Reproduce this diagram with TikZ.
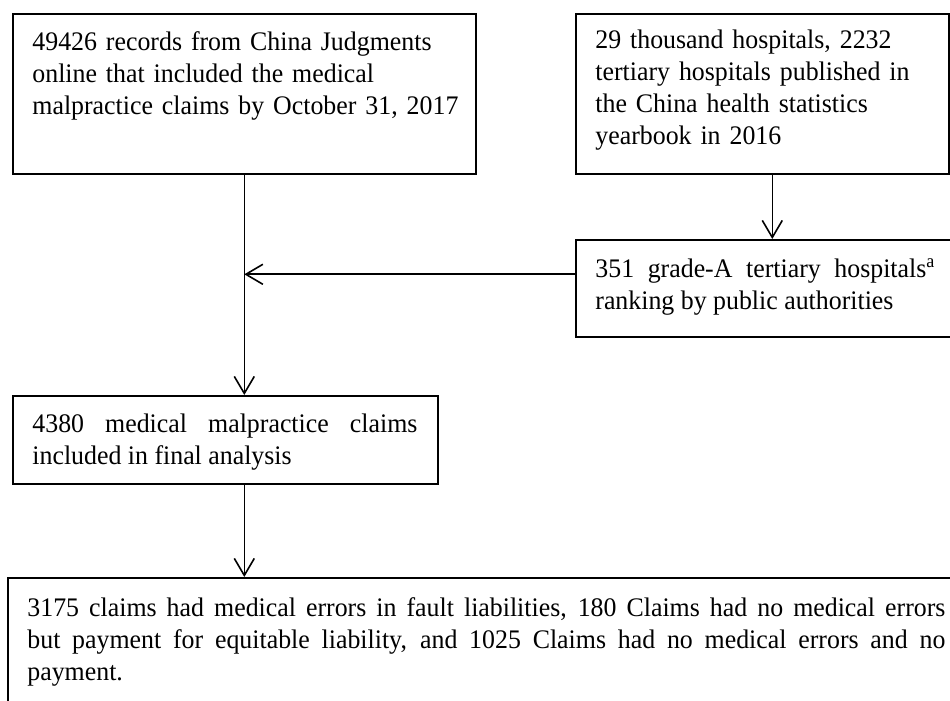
\documentclass[tikz,border=0pt]{standalone}
\usepackage{fontspec}
\setmainfont[FakeStretch=0.965]{Liberation Serif}
\usetikzlibrary{positioning,arrows.meta}
\hyphenpenalty=10000
\exhyphenpenalty=10000

\begin{document}
\begin{tikzpicture}[
    x=0.5pt, y=-0.5pt,
    box/.style={rectangle, draw, line width=0.8pt, anchor=north west, inner sep=0pt},
    txt/.style={inner sep=0pt, font=\fontsize{13.4}{16}\selectfont},
    arrow/.style={-{Straight Barb[length=8.5pt, width=10pt]}, line width=0.8pt},
]
\useasboundingbox (0,0) rectangle (950,701);
\clip (0,0) rectangle (950,701);

% Two source boxes on top
\node[box, minimum width=231.5pt, minimum height=80pt] (records) at (12,13) {};
\node[txt, text width=222pt, align=left, below right=9pt and 10pt of records.north west] (recordstext)
    {49426 records from China Judgments\\ online that included the medical\\ malpractice claims by October 31, 2017};

\node[box, minimum width=186.5pt, minimum height=80pt] (yearbook) at (575,13) {};
\node[txt, text width=175pt, align=left, below right=8.5pt and 10pt of yearbook.north west] (yearbooktext)
    {29 thousand hospitals, 2232\\ tertiary hospitals published in\\ the China health statistics\\ yearbook in 2016};

% Selected hospitals
\node[box, minimum width=190pt, minimum height=48.5pt] (ranked) at (575,239) {};
\node[txt, text width=170pt, align=justify, below right=9.5pt and 10pt of ranked.north west] (rankedtext)
    {351 grade-A tertiary hospitals\textsuperscript{a}\linebreak ranking by public authorities};

% Final analysis and outcome
\node[box, minimum width=212.5pt, minimum height=44pt] (claims) at (12,395) {};
\node[txt, text width=192.5pt, align=justify, below right=9.5pt and 10pt of claims.north west] (claimstext)
    {4380 medical malpractice claims\linebreak included in final analysis};

\node[box, minimum width=480pt, minimum height=75pt] (outcome) at (7,577) {};
\node[txt, text width=459pt, align=justify, below right=10pt and 10pt of outcome.north west] (outcometext)
    {3175 claims had medical errors in fault liabilities, 180 Claims had no medical errors\linebreak but payment for equitable liability, and 1025 Claims had no medical errors and no\linebreak payment.};

% Connectors
\coordinate (drop) at ([xshift=5pt]yearbook.south);
\coordinate (join) at ([yshift=7pt]ranked.west);
\draw[arrow] (records.south) -- (records.south |- claims.north);
\draw[arrow] (drop) -- (drop |- ranked.north);
\draw[arrow] (join) -- (join -| records.south);
\draw[arrow] (records.south |- claims.south) -- (records.south |- outcome.north);

\end{tikzpicture}
\end{document}
